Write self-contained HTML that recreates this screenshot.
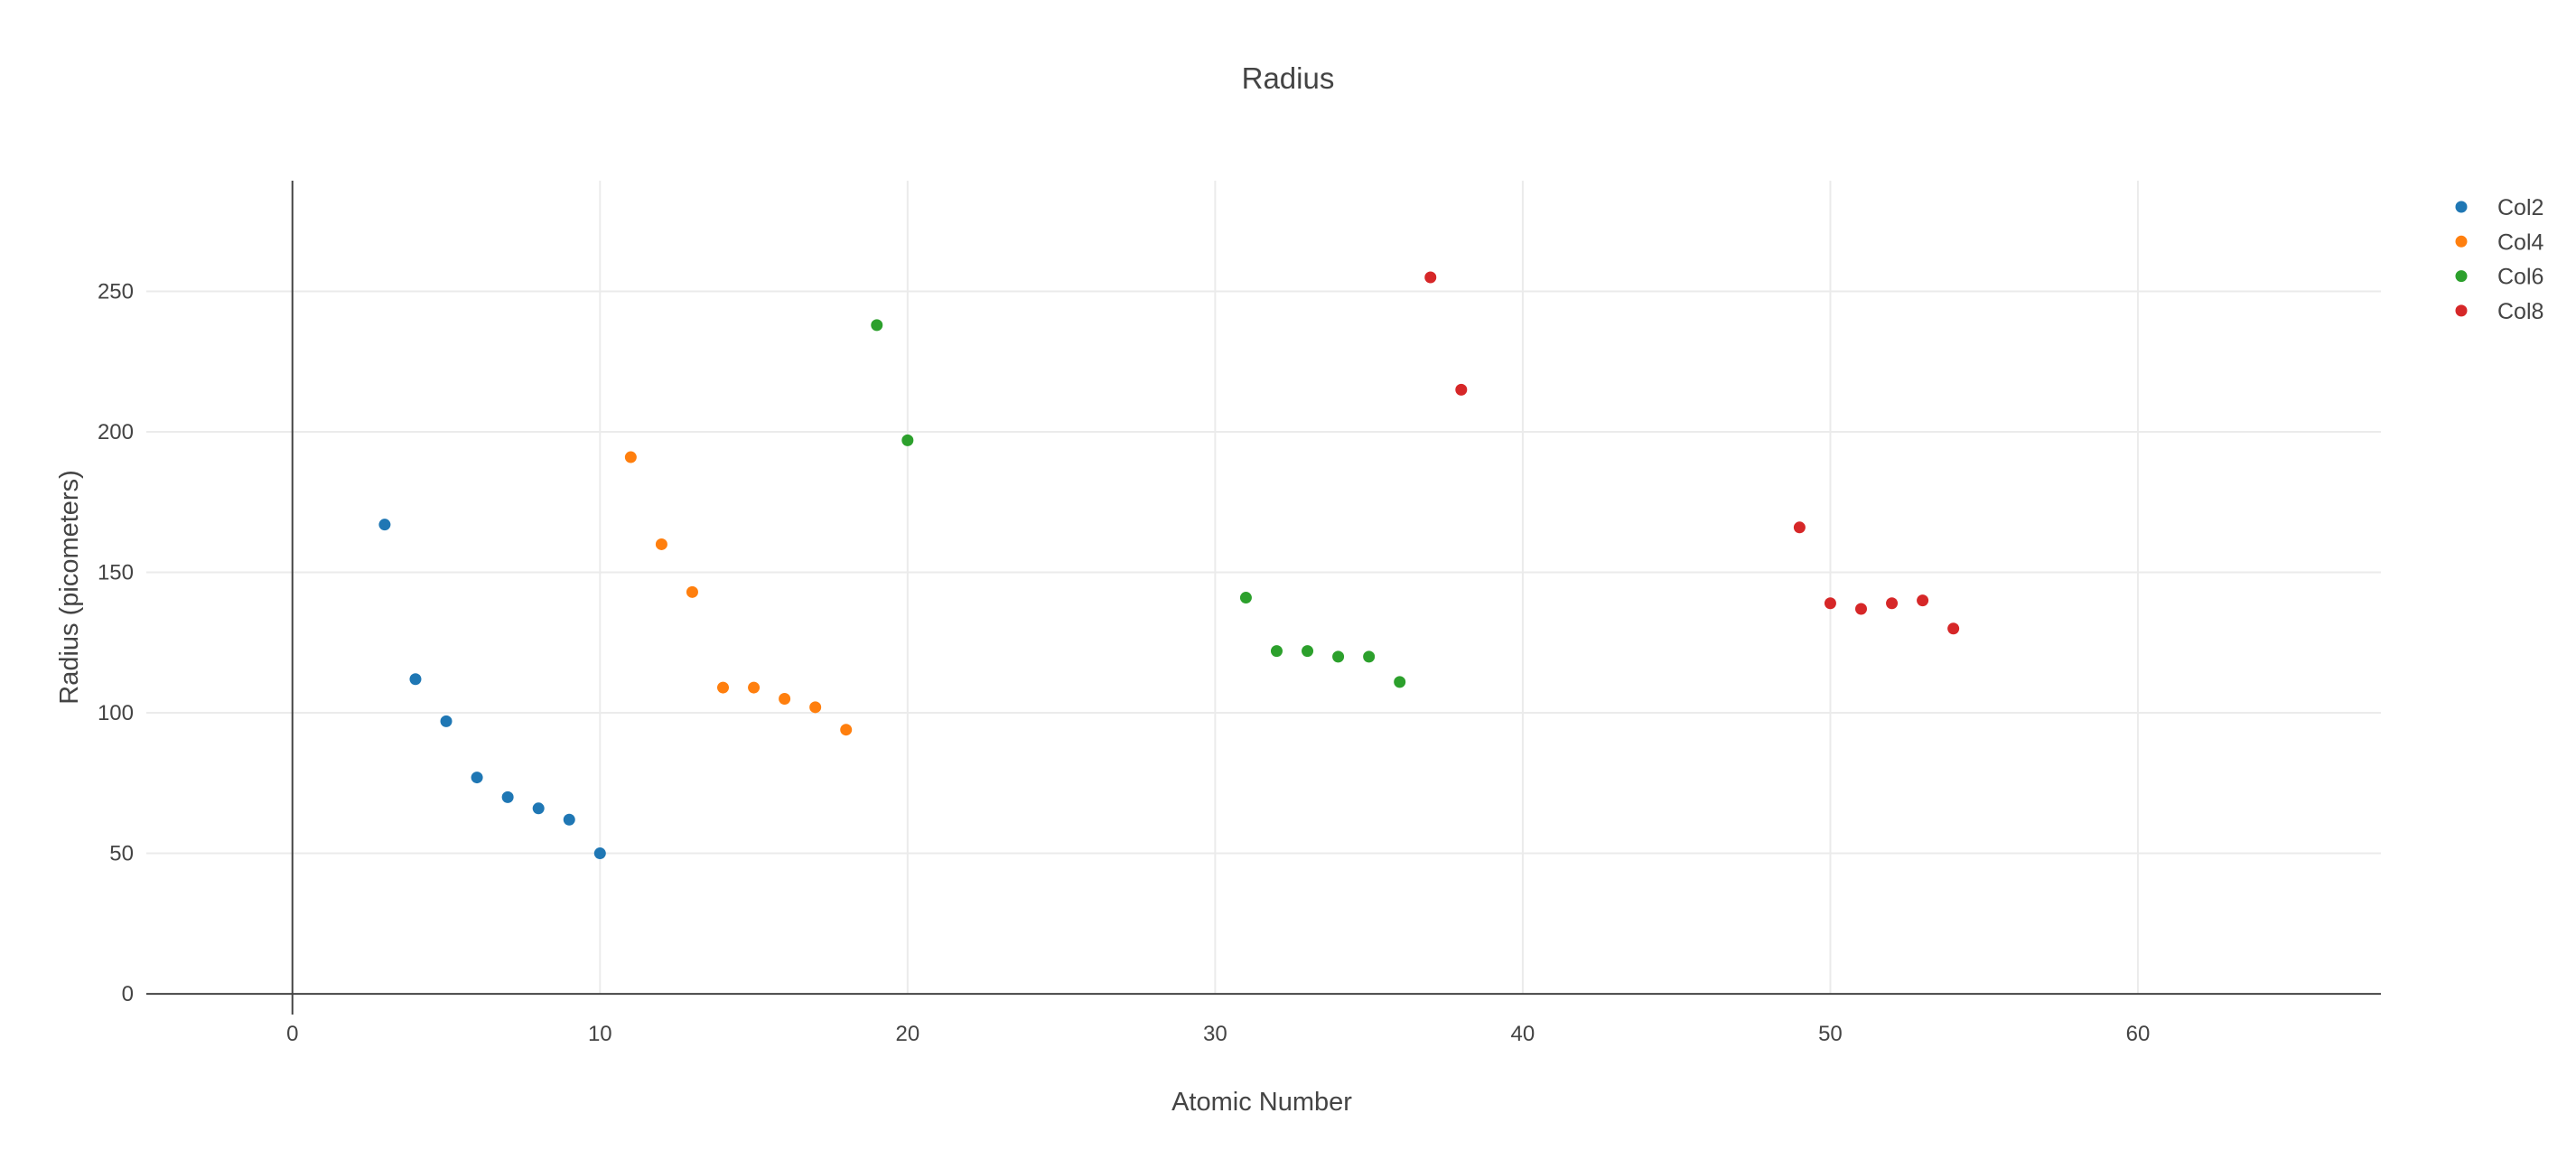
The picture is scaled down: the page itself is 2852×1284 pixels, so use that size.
<!DOCTYPE html>
<html><head><meta charset="utf-8"><style>
html,body{margin:0;padding:0;background:#fff;}
svg{display:block;font-family:"Liberation Sans",sans-serif;}
</style></head><body>
<svg id="chart" width="2852" height="1284">
<text x="1426" y="98" text-anchor="middle" font-size="33" fill="#444">Radius</text>
<g id="grid"></g>
<g id="marks"></g>
<g id="axes"></g>
<text x="1397" y="1229" text-anchor="middle" font-size="29" fill="#444">Atomic Number</text>
<text transform="translate(86,650) rotate(-90)" text-anchor="middle" font-size="29" fill="#444">Radius (picometers)</text>
<g id="legend"></g>
</svg>
<script>
const seriesNames = ["Col2","Col4","Col6","Col8"];
const seriesColors = ["#1f77b4","#ff7f0e","#2ca02c","#d62728"];
const col2X = [3,4,5,6,7,8,9,10];
const col2Y = [167,112,97,77,70,66,62,50];
const col4X = [11,12,13,14,15,16,17,18];
const col4Y = [191,160,143,109,109,105,102,94];
const col6X = [19,20,31,32,33,34,35,36];
const col6Y = [238,197,141,122,122,120,120,111];
const col8X = [37,38,49,50,51,52,53,54];
const col8Y = [255,215,166,139,137,139,140,130];
const xTicks = [0,10,20,30,40,50,60];
const yTicks = [0,50,100,150,200,250];

const NS="http://www.w3.org/2000/svg";
const L=162,R=2636,T=200,B=1101;
const xMin=-4.75,xMax=67.9,yMin=-0.3,yMax=289.4;
const sx=v=>L+(v-xMin)/(xMax-xMin)*(R-L);
const sy=v=>B-(v-yMin)/(yMax-yMin)*(B-T);
function mk(tag,attrs,parent){const e=document.createElementNS(NS,tag);for(const k in attrs)e.setAttribute(k,attrs[k]);parent.appendChild(e);return e;}
const grid=document.getElementById('grid'),axes=document.getElementById('axes'),marks=document.getElementById('marks'),legend=document.getElementById('legend');
xTicks.forEach(t=>{
  const x=sx(t);
  if(t!==0){const g=mk('line',{x1:x,x2:x,y1:T,y2:B,stroke:'#ebebeb','stroke-width':2},grid);
  
  }
  const lb=mk('text',{x:x,y:1152,'text-anchor':'middle','font-size':24,fill:'#444'},axes);
  lb.textContent=t;
  
  
});
yTicks.forEach(t=>{
  const y=sy(t);
  if(t!==0){const g=mk('line',{x1:L,x2:R,y1:y,y2:y,stroke:'#ebebeb','stroke-width':2},grid);
  
  }
  const lb=mk('text',{x:148,y:y+8,'text-anchor':'end','font-size':24,fill:'#444'},axes);
  lb.textContent=t;
  
  
});
const zx=mk('line',{x1:sx(0),x2:sx(0),y1:T,y2:B+22,stroke:'#444','stroke-width':2},axes);


const zy=mk('line',{x1:L,x2:R,y1:sy(0),y2:sy(0),stroke:'#444','stroke-width':2},axes);


const allX=[col2X,col4X,col6X,col8X],allY=[col2Y,col4Y,col6Y,col8Y];
allX.forEach((xs,i)=>{
  xs.forEach((xv,j)=>{
    const c=mk('circle',{cx:sx(xv),cy:sy(allY[i][j]),r:6.5,fill:seriesColors[i]},marks);
    
    
  });
});
seriesNames.forEach((n,i)=>{
  const y=229+i*38.3;
  const c=mk('circle',{cx:2725,cy:y,r:6.5,fill:seriesColors[i]},legend);
  
  
  const t=mk('text',{x:2765,y:y+9,'font-size':25,fill:'#444'},legend);
  t.textContent=n;
  
  
});
</script>
</body></html>
